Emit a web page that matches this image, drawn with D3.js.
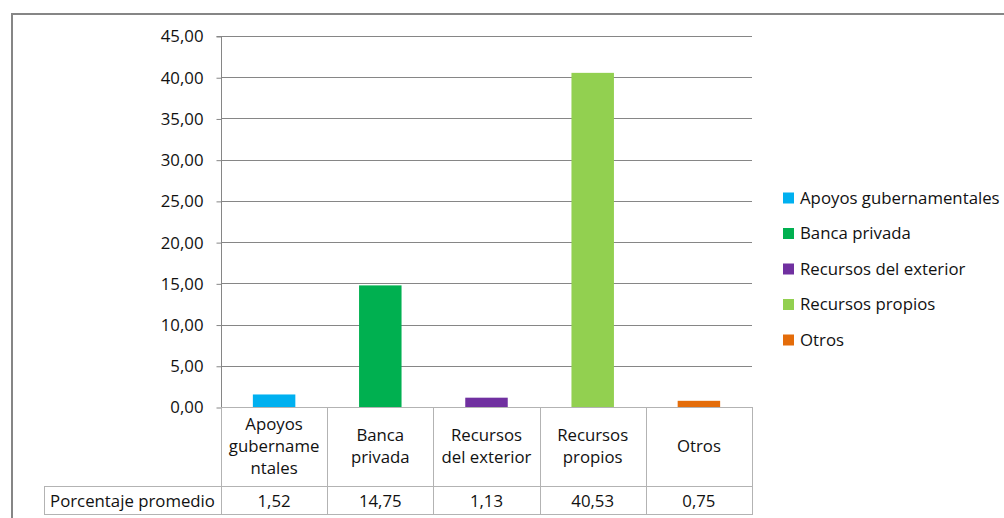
<!DOCTYPE html>
<html>
<head>
<meta charset="utf-8">
<script src="https://cdn.jsdelivr.net/npm/d3@7"></script>
<style>
  html, body { margin: 0; padding: 0; background: #fff; }
  svg { display: block; }
  text { font-family: "Open Sans", "Noto Sans", sans-serif; fill: #111; }
</style>
</head>
<body>
<svg id="chart" width="1004" height="518"></svg>
<script>
// Financing sources and their average percentage
const categories = ["Apoyos gubernamentales", "Banca privada", "Recursos del exterior", "Recursos propios", "Otros"];
const headerLabels = [["Apoyos", "gubername", "ntales"], ["Banca", "privada"], ["Recursos", "del exterior"], ["Recursos", "propios"], ["Otros"]];
const values = [1.52, 14.75, 1.13, 40.53, 0.75];
const colors = ["#00b0f0", "#00b050", "#7030a0", "#92d050", "#e46c0a"];
const rowLabel = "Porcentaje promedio";
const yTicks = [0, 5, 10, 15, 20, 25, 30, 35, 40, 45];

const svg = d3.select("#chart");
const fontSize = 16.8;

const locale = d3.formatLocale({ decimal: ",", thousands: ".", grouping: [3], currency: ["", ""] });
const fmt = locale.format(".2f");

// Plot geometry
const plotLeft = 221, plotRight = 752, plotTop = 36, base = 407;
const tableRow1 = 486, tableBottom = 514, tableLeft = 44;

const x = d3.scaleBand().domain(categories).range([plotLeft, plotRight]).padding(0);
const y = d3.scaleLinear().domain([0, 45]).range([base, plotTop]);

// Chart frame
svg.append("rect")
  .attr("x", 12).attr("y", 14).attr("width", 1020).attr("height", 540)
  .attr("fill", "none").attr("stroke", "#868686").attr("stroke-width", 2);

// Gridlines
svg.append("g").selectAll("line").data(yTicks.slice(1)).join("line")
  .attr("x1", plotLeft).attr("x2", plotRight)
  .attr("y1", d => Math.round(y(d)) + 0.5).attr("y2", d => Math.round(y(d)) + 0.5)
  .attr("stroke", "#868686").attr("stroke-width", 1);

// Y axis
const yAxis = d3.axisLeft(y).tickValues(yTicks).tickFormat(fmt).tickSize(5).tickPadding(13);
const gy = svg.append("g").attr("transform", `translate(${plotLeft + 0.5},0.5)`).call(yAxis);
gy.select(".domain").attr("stroke", "#868686").attr("d", `M-5,${Math.round(plotTop)}H0V${base}`);
gy.selectAll(".tick line").attr("stroke", "#868686");
gy.selectAll(".tick text").attr("font-size", fontSize).attr("fill", "#111")
  .attr("font-family", "'Open Sans', sans-serif");

// Bars
const barW = x.bandwidth() * 0.4;
svg.append("g").selectAll("rect").data(categories).join("rect")
  .attr("x", d => x(d) + (x.bandwidth() - barW) / 2)
  .attr("width", barW)
  .attr("y", (d, i) => y(values[i]))
  .attr("height", (d, i) => base - y(values[i]))
  .attr("fill", (d, i) => colors[i]);

// Data table
const tbl = svg.append("g").attr("stroke", "#b3b3b3").attr("stroke-width", 1).attr("fill", "none");
const hl = (x1, x2, yy) => tbl.append("line").attr("x1", x1).attr("x2", x2).attr("y1", yy + 0.5).attr("y2", yy + 0.5);
const vl = (xx, y1, y2) => tbl.append("line").attr("x1", Math.round(xx) + 0.5).attr("x2", Math.round(xx) + 0.5).attr("y1", y1).attr("y2", y2);
hl(plotLeft, plotRight, base);
hl(tableLeft, plotRight, tableRow1);
hl(tableLeft, plotRight, tableBottom);
vl(tableLeft, tableRow1, tableBottom + 1);
categories.forEach(c => vl(x(c), base, tableBottom + 1));
vl(plotRight, base, tableBottom + 1);

// Column headers
const lineH = 22;
const headerMid = (base + tableRow1) / 2;
categories.forEach((c, i) => {
  const lines = headerLabels[i];
  const t = svg.append("text")
    .attr("text-anchor", "middle")
    .attr("font-size", fontSize);
  lines.forEach((ln, j) => {
    t.append("tspan")
      .attr("x", x(c) + x.bandwidth() / 2)
      .attr("y", headerMid + (j - (lines.length - 1) / 2) * lineH)
      .attr("dy", "0.35em")
      .text(ln);
  });
});

// Value row
const rowMid = (tableRow1 + tableBottom) / 2 + 1;
svg.append("text")
  .attr("x", (tableLeft + plotLeft) / 2).attr("y", rowMid).attr("dy", "0.35em")
  .attr("text-anchor", "middle").attr("font-size", fontSize)
  .text(rowLabel);
svg.append("g").selectAll("text").data(categories).join("text")
  .attr("x", d => x(d) + x.bandwidth() / 2).attr("y", rowMid).attr("dy", "0.35em")
  .attr("text-anchor", "middle").attr("font-size", fontSize)
  .text((d, i) => fmt(values[i]));

// Legend
const lg = svg.append("g").attr("transform", "translate(783,198)");
const item = lg.selectAll("g").data(categories).join("g")
  .attr("transform", (d, i) => `translate(0,${i * 35.5})`);
item.append("rect").attr("x", 0).attr("y", -5.5).attr("width", 11).attr("height", 11)
  .attr("fill", (d, i) => colors[i]);
item.append("text").attr("x", 17).attr("y", 0).attr("dy", "0.35em")
  .attr("font-size", fontSize).text(d => d);
</script>
</body>
</html>
